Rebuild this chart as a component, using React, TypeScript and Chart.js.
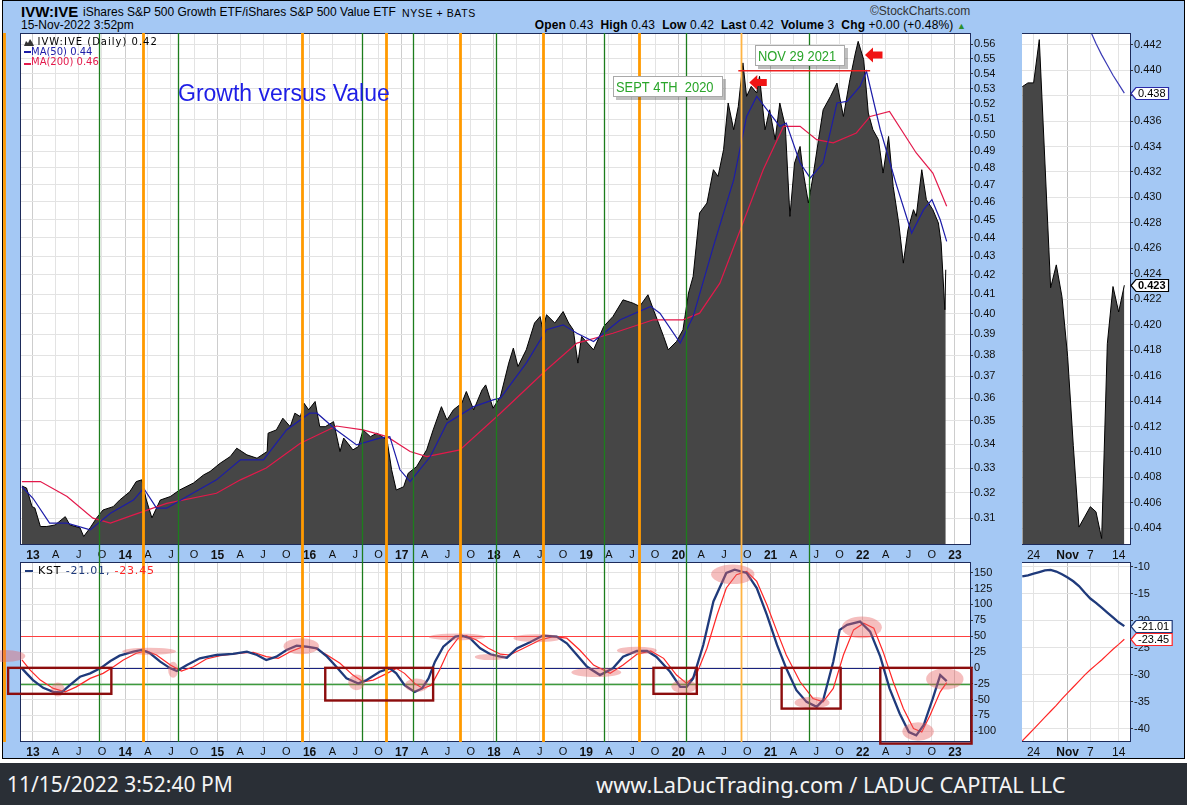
import React, { useEffect, useRef } from "react";
import { Chart, registerables } from "chart.js";

Chart.register(...registerables);

const SANS = "'Liberation Sans', Arial, Helvetica, sans-serif";
const DEJAVU = "'DejaVu Sans', Verdana, sans-serif";
const FOOT = "'Noto Sans', 'Open Sans', sans-serif";

// ---------------- main panel: IVW:IVE ratio (dates as decimal years) ----------------
const priceDates = [
  2012.88, 2012.93, 2012.99, 2013.02, 2013.08, 2013.15, 2013.24, 2013.35, 2013.40, 2013.51,
  2013.55, 2013.62, 2013.69, 2013.76, 2013.87, 2013.94, 2014.05, 2014.12, 2014.18, 2014.23,
  2014.29, 2014.38, 2014.49, 2014.59, 2014.74, 2014.85, 2014.92, 2015.03, 2015.14, 2015.21,
  2015.32, 2015.43, 2015.54, 2015.55, 2015.64, 2015.71, 2015.79, 2015.84, 2015.90, 2015.94,
  2015.99, 2016.06, 2016.11, 2016.17, 2016.26, 2016.33, 2016.37, 2016.47, 2016.53, 2016.58,
  2016.66, 2016.73, 2016.84, 2016.89, 2016.94, 2017.02, 2017.07, 2017.16, 2017.27, 2017.34,
  2017.43, 2017.49, 2017.56, 2017.65, 2017.70, 2017.78, 2017.87, 2017.91, 2017.99, 2018.07,
  2018.16, 2018.21, 2018.26, 2018.35, 2018.44, 2018.50, 2018.53, 2018.57, 2018.66, 2018.75,
  2018.81, 2018.86, 2018.91, 2018.95, 2019.08, 2019.19, 2019.29, 2019.40, 2019.51, 2019.58,
  2019.67, 2019.73, 2019.84, 2019.89, 2019.98, 2020.05, 2020.11, 2020.16, 2020.23, 2020.31,
  2020.38, 2020.43, 2020.49, 2020.54, 2020.60, 2020.65, 2020.70, 2020.74, 2020.79, 2020.85,
  2020.88, 2020.94, 2020.99, 2021.05, 2021.10, 2021.16, 2021.21, 2021.26, 2021.32, 2021.35,
  2021.41, 2021.46, 2021.52, 2021.57, 2021.65, 2021.72, 2021.79, 2021.86, 2021.92, 2021.95,
  2022.01, 2022.06, 2022.11, 2022.17, 2022.22, 2022.28, 2022.33, 2022.39, 2022.44, 2022.49,
  2022.55, 2022.58, 2022.64, 2022.69, 2022.76, 2022.82, 2022.85, 2022.89, 2022.90,
];
const priceValues = [
  0.3227, 0.3219, 0.3145, 0.3140, 0.3068, 0.3068, 0.3074, 0.3106, 0.3074, 0.3063,
  0.3030, 0.3063, 0.3101, 0.3132, 0.3145, 0.3171, 0.3204, 0.3245, 0.3252, 0.3171,
  0.3101, 0.3171, 0.3185, 0.3211, 0.3239, 0.3272, 0.3286, 0.3320, 0.3348, 0.3383,
  0.3355, 0.3341, 0.3369, 0.3447, 0.3461, 0.3512, 0.3475, 0.3534, 0.3519, 0.3578,
  0.3549, 0.3586, 0.3475, 0.3475, 0.3497, 0.3369, 0.3426, 0.3376, 0.3390, 0.3461,
  0.3432, 0.3447, 0.3418, 0.3293, 0.3211, 0.3224, 0.3279, 0.3306, 0.3376, 0.3461,
  0.3563, 0.3504, 0.3549, 0.3578, 0.3631, 0.3549, 0.3638, 0.3661, 0.3556, 0.3608,
  0.3762, 0.3833, 0.3746, 0.3825, 0.3955, 0.3987, 0.3922, 0.3996, 0.3955, 0.4012,
  0.3955, 0.3922, 0.3762, 0.3889, 0.3825, 0.3938, 0.3987, 0.4071, 0.4054, 0.4038,
  0.4097, 0.4021, 0.3889, 0.3825, 0.3865, 0.3922, 0.4106, 0.4192, 0.4537, 0.4594,
  0.4789, 0.4749, 0.4910, 0.5205, 0.5034, 0.5183, 0.5472, 0.5248, 0.5314, 0.5270,
  0.5381, 0.5034, 0.5161, 0.4972, 0.5205, 0.5055, 0.4518, 0.4829, 0.4930, 0.4789,
  0.4594, 0.4749, 0.4972, 0.5161, 0.5248, 0.5336, 0.5118, 0.5359, 0.5540, 0.5621,
  0.5494, 0.5140, 0.5034, 0.4972, 0.4769, 0.4992, 0.4690, 0.4481, 0.4262, 0.4443,
  0.4556, 0.4518, 0.4789, 0.4613, 0.4556, 0.4481, 0.4370, 0.4021, 0.4227,
];

const ma50Dates = [
  2012.88, 2013.00, 2013.18, 2013.37, 2013.62, 2013.84, 2014.09, 2014.20, 2014.34, 2014.45,
  2014.67, 2014.99, 2015.25, 2015.50, 2015.75, 2016.00, 2016.08, 2016.29, 2016.51, 2016.76,
  2016.87, 2016.98, 2017.09, 2017.31, 2017.49, 2017.78, 2017.99, 2018.07, 2018.35, 2018.57,
  2018.75, 2018.90, 2019.08, 2019.37, 2019.70, 2019.80, 2020.02, 2020.16, 2020.38, 2020.60,
  2020.74, 2020.85, 2020.99, 2021.10, 2021.17, 2021.32, 2021.43, 2021.57, 2021.72, 2021.83,
  2021.97, 2022.04, 2022.19, 2022.37, 2022.53, 2022.66, 2022.75, 2022.84, 2022.91,
];
const ma50Values = [
  0.3224, 0.3178, 0.3081, 0.3081, 0.3055, 0.3119, 0.3171, 0.3218, 0.3139, 0.3139,
  0.3185, 0.3252, 0.3334, 0.3334, 0.3461, 0.3534, 0.3534, 0.3461, 0.3397, 0.3426,
  0.3432, 0.3293, 0.3245, 0.3348, 0.3490, 0.3563, 0.3593, 0.3601, 0.3762, 0.3922,
  0.3946, 0.3905, 0.3865, 0.3971, 0.4038, 0.4004, 0.3857, 0.3987, 0.4352, 0.4729,
  0.5118, 0.5248, 0.5140, 0.5055, 0.5076, 0.4829, 0.4740, 0.4829, 0.5205, 0.5215,
  0.5314, 0.5415, 0.5034, 0.4690, 0.4425, 0.4556, 0.4613, 0.4499, 0.4379,
];

const ma200Dates = [
  2012.88, 2013.08, 2013.37, 2013.65, 2013.84, 2014.09, 2014.45, 2014.99, 2015.25, 2015.53,
  2015.90, 2016.29, 2016.58, 2016.84, 2017.09, 2017.27, 2017.63, 2018.07, 2018.57, 2018.90,
  2019.29, 2019.73, 2020.05, 2020.23, 2020.45, 2020.70, 2020.92, 2021.14, 2021.32, 2021.50,
  2021.68, 2021.93, 2022.08, 2022.29, 2022.58, 2022.76, 2022.91,
];
const ma200Values = [
  0.3245, 0.3245, 0.3185, 0.3100, 0.3081, 0.3113, 0.3158, 0.3198, 0.3252, 0.3300,
  0.3404, 0.3478, 0.3461, 0.3432, 0.3369, 0.3348, 0.3376, 0.3534, 0.3731, 0.3857,
  0.3905, 0.3971, 0.3971, 0.4004, 0.4157, 0.4481, 0.4789, 0.5055, 0.5055, 0.4972,
  0.4952, 0.5014, 0.5118, 0.5150, 0.4890, 0.4769, 0.4575,
];

const priceTicks = [
  0.31, 0.32, 0.33, 0.34, 0.35, 0.36, 0.37, 0.38, 0.39, 0.40, 0.41, 0.42, 0.43,
  0.44, 0.45, 0.46, 0.47, 0.48, 0.49, 0.50, 0.51, 0.52, 0.53, 0.54, 0.55, 0.56,
];

// ---------------- KST panel ----------------
const kstDates = [
  2012.88, 2012.93, 2013.00, 2013.11, 2013.22, 2013.31, 2013.40, 2013.51, 2013.62, 2013.73,
  2013.84, 2013.94, 2014.09, 2014.18, 2014.27, 2014.38, 2014.49, 2014.56, 2014.67, 2014.81,
  2014.99, 2015.17, 2015.32, 2015.43, 2015.53, 2015.64, 2015.75, 2015.86, 2015.97, 2016.08,
  2016.19, 2016.29, 2016.40, 2016.53, 2016.62, 2016.76, 2016.87, 2016.94, 2017.03, 2017.14,
  2017.22, 2017.29, 2017.36, 2017.45, 2017.58, 2017.65, 2017.74, 2017.85, 2017.96, 2018.07,
  2018.14, 2018.25, 2018.39, 2018.53, 2018.68, 2018.79, 2018.90, 2019.01, 2019.15, 2019.29,
  2019.40, 2019.55, 2019.66, 2019.76, 2019.91, 2020.02, 2020.09, 2020.16, 2020.27, 2020.38,
  2020.52, 2020.61, 2020.74, 2020.85, 2020.96, 2021.07, 2021.17, 2021.28, 2021.39, 2021.50,
  2021.57, 2021.68, 2021.75, 2021.83, 2021.97, 2022.08, 2022.19, 2022.29, 2022.40, 2022.50,
  2022.58, 2022.66, 2022.76, 2022.84, 2022.91,
];
const kstValues = [
  -0.8, -8.7, -19.3, -31.5, -37.9, -38.8, -27.3, -14.1, -8.7, -0.8,
  10.8, 19.2, 25.5, 28.2, 23, 9.7, -0.8, -5.1, 4.4, 15,
  20.3, 21.9, 25.5, 20.3, 12.4, 17.6, 28.2, 35, 33.4, 30.9,
  17.6, 1.7, -16.6, -24.6, -19.3, -6.2, -0.8, -8.7, -27.3, -37.9,
  -32.5, -16.6, 9.7, 33.4, 49.3, 50.9, 46.8, 30.9, 21.4, 17.6,
  16, 30.9, 40.4, 50.9, 49.3, 38.8, 20.3, 1.7, -11.4, -0.8,
  17.6, 26.6, 26.6, 17.6, -6.2, -30, -30, -16.6, 36.1, 104.8,
  149.8, 155, 149.8, 126, 83.7, 36.1, -0.8, -35.2, -53.7, -61.6,
  -51, 9.7, 59.9, 67.8, 73.1, 57.2, 17.6, -32.5, -72.1, -101.3,
  -106.5, -90.6, -48.3, -11.4, -21.01,
];
const kstSignalDates = [
  2012.88, 2012.97, 2013.08, 2013.22, 2013.35, 2013.47, 2013.62, 2013.76, 2013.85, 2013.98,
  2014.12, 2014.23, 2014.34, 2014.49, 2014.61, 2014.74, 2014.88, 2015.03, 2015.25, 2015.39,
  2015.53, 2015.66, 2015.79, 2015.93, 2016.06, 2016.19, 2016.33, 2016.47, 2016.58, 2016.69,
  2016.84, 2016.94, 2017.03, 2017.14, 2017.23, 2017.32, 2017.41, 2017.50, 2017.61, 2017.70,
  2017.81, 2017.94, 2018.07, 2018.17, 2018.32, 2018.50, 2018.64, 2018.79, 2018.93, 2019.08,
  2019.26, 2019.40, 2019.55, 2019.70, 2019.84, 2019.98, 2020.09, 2020.20, 2020.31, 2020.42,
  2020.52, 2020.63, 2020.74, 2020.85, 2020.96, 2021.07, 2021.17, 2021.32, 2021.46, 2021.57,
  2021.68, 2021.79, 2021.90, 2022.01, 2022.12, 2022.22, 2022.33, 2022.44, 2022.55, 2022.64,
  2022.73, 2022.84, 2022.91,
];
const kstSignalValues = [
  12.4, -3.5, -19.3, -32.5, -37.9, -30, -16.6, -8.7, -0.8, 12.4,
  23, 26.6, 20.3, 4.4, -5.1, 1.7, 13.9, 19.2, 23, 24.6,
  17.6, 15, 25.5, 33.4, 30.9, 20.3, 7.1, -11.4, -22, -19.3,
  -8.7, -0.8, -8.7, -24.6, -32.5, -27.3, -3.5, 25.5, 46.8, 50.9,
  44, 30.9, 21.5, 20.3, 30.9, 44, 49.3, 46.8, 28.2, 4.4,
  -8.7, 4.4, 21.4, 26.6, 15, -11.4, -24.6, -8.7, 30.9, 83.7,
  126, 147, 152.3, 136.4, 99.5, 57.2, 20.3, -22, -48.3, -53.7,
  -32.5, 20.3, 59.9, 70.5, 62.6, 25.5, -22, -64.2, -95.9, -101.3,
  -74.8, -37.9, -23.45,
];
const kstTicks = [150, 125, 100, 75, 50, 25, 0, -25, -50, -75, -100];
const kstLevels = [50, 0, -25];

// ---------------- right-hand zoom panels (last trading days) ----------------
const zoomDays = [
  "Oct 20", "Oct 21", "Oct 24", "Oct 25", "Oct 26", "Oct 27", "Oct 28", "Oct 31", "Nov 1", "Nov 2",
  "Nov 3", "Nov 4", "Nov 7", "Nov 8", "Nov 9", "Nov 10", "Nov 11", "Nov 14", "Nov 15",
];
const zoomPrice = [
  0.4387, 0.4390, 0.4390, 0.4424, 0.4327, 0.4229, 0.4247, 0.4222, 0.4175, 0.4105,
  0.4041, 0.4049, 0.4057, 0.4053, 0.4032, 0.4185, 0.4230, 0.4210, 0.4231,
];
const zoomMa50 = [
  null, null, null, null, null, null, null, null, null, null,
  0.4449, 0.4440, 0.4431, 0.4421, 0.4412, 0.4404, 0.4396, 0.4389, 0.4382,
];
const zoomKst = [
  -11.8, -11.6, -11.3, -11.0, -10.7, -10.6, -10.9, -11.4, -12.0, -12.7,
  -13.6, -14.8, -15.9, -16.7, -17.6, -18.5, -19.4, -20.3, -21.01,
];
const zoomKstSignal = [
  -42.3, -41.2, -40.1, -39.0, -37.9, -36.8, -35.7, -34.5, -33.4, -32.3,
  -31.2, -30.1, -29.1, -28.2, -27.3, -26.3, -25.3, -24.4, -23.45,
];
const zoomTickIdx = [2, 8, 12, 17];
const zoomTickLabels = ["24", "Nov", "7", "14"];
const zoomPriceTicks = [
  0.404, 0.406, 0.408, 0.41, 0.412, 0.414, 0.416, 0.418, 0.42, 0.422,
  0.424, 0.426, 0.428, 0.43, 0.432, 0.434, 0.436, 0.438, 0.44, 0.442,
];
const zoomKstTicks = [-10, -15, -20, -25, -30, -35, -40];

// ---------------- time axis labels ----------------
const yearTicks = [2013, 2014, 2015, 2016, 2017, 2018, 2019, 2020, 2021, 2022, 2023];
const quarterOffsets = [0, 0.247, 0.496, 0.748];
const quarterLabels = ["", "A", "J", "O"];

// ---------------- annotations (data coordinates) ----------------
const greenLineDates = [2013.716, 2014.573, 2016.568, 2017.121, 2018.018, 2019.19, 2020.079, 2021.413];
const orangeLineDates = [2012.685, 2014.193, 2015.918, 2016.829, 2017.631, 2018.535, 2019.573];
const lightOrangeLineDates = [2020.679];

const peakLineStart = 2020.65;
const peakLineEnd = 2022.08;
const peakLineValue = 0.5419;
const calloutTexts = ["SEPT 4TH  2020", "NOV 29 2021"];
const calloutDates = [2019.287, 2020.834];
const calloutValues = [0.5381, 0.5598];
const arrowDates = [2020.769, 2022.024];
const arrowValues = [0.5339, 0.5526];

const ellipseDates = [2012.70, 2013.27, 2014.26, 2014.52, 2015.91, 2016.51, 2017.16, 2017.60, 2017.96, 2018.47, 2019.11, 2019.55, 2020.06, 2020.59, 2021.45, 2021.99, 2022.60, 2022.89];
const ellipseValues = [18.7, -34.1, 26.1, -3.0, 34.1, -22.8, -27.3, 48.8, 17.1, 46.8, -7.1, 27.4, -29.3, 147.5, -55.0, 63.9, -100.5, -17.7];
const ellipseRx = [0.217, 0.073, 0.293, 0.054, 0.192, 0.090, 0.127, 0.307, 0.168, 0.260, 0.271, 0.217, 0.136, 0.235, 0.190, 0.217, 0.171, 0.203];
const ellipseRy = [9.5, 11.1, 5.5, 12.7, 12.7, 12.4, 10.6, 5.2, 4.8, 6.3, 7.4, 6.0, 10.6, 15.4, 9.2, 17.1, 14.6, 16.6];

const boxStartDates = [2012.73, 2016.17, 2019.73, 2021.12, 2022.19];
const boxEndDates = [2013.85, 2017.34, 2020.20, 2021.76, 2023.18];
const boxTopValues = [0, 0, 0, 0, 0];
const boxBottomValues = [-41, -51.5, -41, -64.3, -119.5];

// ---------------- scale ranges ----------------
const X_MIN = 2012.87;
const X_MAX = 2023.163;
const PRICE_MIN = 0.2998;
const PRICE_MAX = 0.568;
const KST_MIN = -117;
const KST_MAX = 167;
const ZOOM_MIN = 0.40269;
const ZOOM_MAX = 0.44292;
const ZKST_MIN = -42.5;
const ZKST_MAX = -9.13;

const quarterTickValues: number[] = [];
const quarterTickLabels: string[] = [];
yearTicks.forEach((yr) =>
  quarterOffsets.forEach((o, q) => {
    const v = yr + o;
    if (v <= X_MAX) {
      quarterTickValues.push(v);
      quarterTickLabels.push(q === 0 ? String(yr).slice(2) : quarterLabels[q]);
    }
  })
);

const pts = (xs: number[], ys: (number | null)[]) => xs.map((x, i) => ({ x, y: ys[i] }));
const indexOf = (arr: any[]) => arr.map((_, i) => i);

const COL = {
  frame: "#1d2b5a",
  grid: "#e3e3e3",
  gridMajor: "#cdcdcd",
  ma50: "#1c1ca8",
  ma200: "#e3194b",
  area: "#464646",
  kst: "#1f3a7b",
  kstSig: "#ff2626",
};

// ---------------- plugins ----------------
const framePlugin = {
  id: "frame",
  beforeDraw(chart: any) {
    const { ctx, chartArea: a } = chart;
    ctx.save();
    ctx.fillStyle = "#ffffff";
    ctx.fillRect(a.left, a.top, a.right - a.left, a.bottom - a.top);
    ctx.restore();
  },
  afterDraw(chart: any) {
    const { ctx, chartArea: a } = chart;
    ctx.save();
    ctx.strokeStyle = COL.frame;
    ctx.lineWidth = 1;
    ctx.strokeRect(Math.round(a.left) - 0.5, Math.round(a.top) + 0.5, Math.round(a.right - a.left) + 1, Math.round(a.bottom - a.top) - 1);
    ctx.restore();
  },
};

const vlinePlugin = (extend: boolean) => ({
  id: "vlines",
  afterDraw(chart: any) {
    const { ctx, chartArea: a, scales } = chart;
    const xs = scales.x;
    const y0 = a.top;
    const y1 = extend ? chart.height : a.bottom;
    const draw = (dates: number[], color: string, w: number) => {
      ctx.strokeStyle = color;
      ctx.lineWidth = w;
      dates.forEach((d) => {
        const px = Math.round(xs.getPixelForValue(d)) + 0.5;
        ctx.beginPath();
        ctx.moveTo(px, y0);
        ctx.lineTo(px, y1);
        ctx.stroke();
      });
    };
    ctx.save();
    draw(greenLineDates, "#1d7d1d", 1.3);
    draw(orangeLineDates, "#ff9a00", 2.8);
    draw(lightOrangeLineDates, "#ffb444", 1.8);
    ctx.restore();
  },
});

const mainAnnotationPlugin = {
  id: "mainAnno",
  afterDraw(chart: any) {
    const { ctx, scales } = chart;
    const x = scales.x;
    const y = scales.y;
    ctx.save();
    const py = y.getPixelForValue(peakLineValue);
    ctx.strokeStyle = "#ee2020";
    ctx.lineWidth = 1.5;
    ctx.beginPath();
    ctx.moveTo(x.getPixelForValue(peakLineStart), py);
    ctx.lineTo(x.getPixelForValue(peakLineEnd), py);
    ctx.stroke();

    ctx.font = `15px ${SANS}`;
    const sx = 0.86;
    calloutTexts.forEach((t, i) => {
      const bx = Math.round(x.getPixelForValue(calloutDates[i]));
      const by = Math.round(y.getPixelForValue(calloutValues[i]));
      const tw = ctx.measureText(t).width * sx;
      const bw = Math.round(tw + 12);
      const bh = 21;
      ctx.fillStyle = "rgba(0,0,0,0.25)";
      ctx.fillRect(bx + 3, by + 3, bw, bh);
      ctx.fillStyle = "#ffffff";
      ctx.fillRect(bx, by, bw, bh);
      ctx.strokeStyle = "#a9a9a9";
      ctx.lineWidth = 1;
      ctx.strokeRect(bx + 0.5, by + 0.5, bw - 1, bh - 1);
      ctx.save();
      ctx.translate(bx + 3, by + 16);
      ctx.scale(sx, 1);
      ctx.fillStyle = "#2aa52a";
      ctx.textBaseline = "alphabetic";
      ctx.fillText(t, 0, 0);
      ctx.restore();
    });

    arrowDates.forEach((d, i) => {
      const tx = x.getPixelForValue(d);
      const ty = y.getPixelForValue(arrowValues[i]);
      ctx.fillStyle = "#f01414";
      ctx.beginPath();
      ctx.moveTo(tx, ty);
      ctx.lineTo(tx + 8, ty - 7.5);
      ctx.lineTo(tx + 8, ty - 3.5);
      ctx.lineTo(tx + 17.5, ty - 3.5);
      ctx.lineTo(tx + 17.5, ty + 3.5);
      ctx.lineTo(tx + 8, ty + 3.5);
      ctx.lineTo(tx + 8, ty + 7.5);
      ctx.closePath();
      ctx.fill();
    });
    ctx.restore();
  },
};

const kstLevelPlugin = {
  id: "kstLevels",
  beforeDatasetsDraw(chart: any) {
    const { ctx, chartArea: a, scales } = chart;
    const colors = ["#ff4040", "#1a237e", "#3d9b3d"];
    const widths = [1.2, 1.2, 1.6];
    ctx.save();
    kstLevels.forEach((v, i) => {
      const py = Math.round(scales.y.getPixelForValue(v)) + 0.5;
      ctx.strokeStyle = colors[i];
      ctx.lineWidth = widths[i];
      ctx.beginPath();
      ctx.moveTo(a.left, py);
      ctx.lineTo(a.right, py);
      ctx.stroke();
    });
    ctx.restore();
  },
};

const kstMarksPlugin = {
  id: "kstMarks",
  afterDraw(chart: any) {
    const { ctx, scales } = chart;
    const x = scales.x;
    const y = scales.y;
    ctx.save();
    ctx.fillStyle = "rgba(232,100,100,0.42)";
    ellipseDates.forEach((d, i) => {
      const cx = x.getPixelForValue(d);
      const cy = y.getPixelForValue(ellipseValues[i]);
      const rx = x.getPixelForValue(d + ellipseRx[i]) - cx;
      const ry = cy - y.getPixelForValue(ellipseValues[i] + ellipseRy[i]);
      ctx.beginPath();
      ctx.ellipse(cx, cy, Math.abs(rx), Math.abs(ry), 0, 0, Math.PI * 2);
      ctx.fill();
    });
    ctx.strokeStyle = "#8c0d0d";
    ctx.lineWidth = 2.4;
    boxStartDates.forEach((d, i) => {
      const x0 = x.getPixelForValue(d);
      const x1 = x.getPixelForValue(boxEndDates[i]);
      const y0 = y.getPixelForValue(boxTopValues[i]);
      const y1 = y.getPixelForValue(boxBottomValues[i]);
      ctx.strokeRect(x0, y0, x1 - x0, y1 - y0);
    });
    ctx.restore();
  },
};

type Tag = { value: number; text: string; border: string; bold?: boolean };
const tagPlugin = (tags: Tag[]) => ({
  id: "tags",
  afterDraw(chart: any) {
    const { ctx, chartArea: a, scales } = chart;
    tags.forEach((t) => {
      const py = Math.round(scales.y.getPixelForValue(t.value)) + 0.5;
      ctx.save();
      ctx.font = `${t.bold ? "bold " : ""}11px ${SANS}`;
      const w = ctx.measureText(t.text).width + 5;
      const h = 12;
      const x0 = a.right + 1;
      ctx.beginPath();
      ctx.moveTo(x0, py);
      ctx.lineTo(x0 + 5, py - h / 2);
      ctx.lineTo(x0 + 5 + w, py - h / 2);
      ctx.lineTo(x0 + 5 + w, py + h / 2);
      ctx.lineTo(x0 + 5, py + h / 2);
      ctx.closePath();
      ctx.fillStyle = "#ffffff";
      ctx.fill();
      ctx.strokeStyle = t.border;
      ctx.lineWidth = 1.2;
      ctx.stroke();
      ctx.fillStyle = "#000";
      ctx.textBaseline = "middle";
      ctx.fillText(t.text, x0 + 7, py + 0.5);
      ctx.restore();
    });
  },
});

// ---------------- scale builders ----------------
const timeScale = (h: number) => ({
  type: "linear",
  min: X_MIN,
  max: X_MAX,
  afterBuildTicks: (s: any) => {
    s.ticks = quarterTickValues.map((v) => ({ value: v }));
  },
  afterFit: (s: any) => {
    s.height = h;
    s.paddingLeft = 0;
    s.paddingRight = 0;
  },
  grid: {
    color: (c: any) => (c.tick && Number.isInteger(c.tick.value) ? COL.gridMajor : COL.grid),
    drawTicks: false,
  },
  border: { display: false },
  ticks: {
    autoSkip: false,
    maxRotation: 0,
    padding: 3,
    color: "#111",
    font: (c: any) =>
      c.tick && Number.isInteger(c.tick.value)
        ? { family: SANS, size: 12, weight: "bold" }
        : { family: SANS, size: 11 },
    callback: (_v: any, i: number) => quarterTickLabels[i],
  },
});

const zoomXScale = (h: number) => ({
  type: "linear",
  min: -0.05,
  max: 19.0,
  afterBuildTicks: (s: any) => {
    s.ticks = zoomTickIdx.map((v) => ({ value: v }));
  },
  afterFit: (s: any) => {
    s.height = h;
    s.paddingLeft = 0;
    s.paddingRight = 0;
  },
  grid: { color: (c: any) => (c.index === 1 ? "#bdbdbd" : COL.grid), drawTicks: false },
  border: { display: false },
  ticks: {
    autoSkip: false,
    maxRotation: 0,
    padding: 3,
    color: "#111",
    font: (c: any) => (c.index === 1 ? { family: SANS, size: 12, weight: "bold" } : { family: SANS, size: 12 }),
    callback: (_v: any, i: number) => zoomTickLabels[i],
  },
});

const valueScale = (type: string, min: number, max: number, ticks: number[], width: number, fmt: (v: number) => string) => ({
  type,
  position: "right",
  min,
  max,
  afterBuildTicks: (s: any) => {
    s.ticks = ticks.map((v) => ({ value: v }));
  },
  afterFit: (s: any) => {
    s.width = width;
    s.paddingTop = 0;
    s.paddingBottom = 0;
  },
  grid: { color: COL.grid, tickLength: 3, tickColor: "#333" },
  border: { display: false },
  ticks: {
    autoSkip: false,
    padding: 1,
    color: "#111",
    font: { family: SANS, size: 11 },
    callback: (v: any) => fmt(Number(v)),
  },
});

const baseOptions = (padLeft: number) => ({
  animation: false,
  responsive: false,
  events: [],
  layout: { padding: { left: padLeft, right: 0, top: 0, bottom: 0 }, autoPadding: false },
  plugins: { legend: { display: false }, tooltip: { enabled: false } },
  elements: { point: { radius: 0 }, line: { tension: 0 } },
});

// ---------------- text helper ----------------
type TxtProps = {
  x?: number;
  right?: number;
  y: number;
  size: number;
  color?: string;
  weight?: number;
  family?: string;
  ls?: number;
  children: React.ReactNode;
};
function Txt({ x, right, y, size, color = "#000", weight = 400, family = SANS, ls = 0, children }: TxtProps) {
  const asc = family === FOOT ? 0.888 : 0.846;
  const style: React.CSSProperties = {
    position: "absolute",
    top: y - asc * size,
    fontSize: size,
    lineHeight: `${size}px`,
    color,
    fontWeight: weight,
    fontFamily: family,
    letterSpacing: ls,
    whiteSpace: "pre",
  };
  if (right !== undefined) style.right = 1187 - right;
  else style.left = x;
  return <div style={style}>{children}</div>;
}

export default function App() {
  const mainRef = useRef<HTMLCanvasElement>(null);
  const zoomRef = useRef<HTMLCanvasElement>(null);
  const kstRef = useRef<HTMLCanvasElement>(null);
  const kstZoomRef = useRef<HTMLCanvasElement>(null);

  useEffect(() => {
    const charts: Chart[] = [];

    charts.push(
      new Chart(mainRef.current as HTMLCanvasElement, {
        type: "line",
        data: {
          datasets: [
            { data: pts(ma50Dates, ma50Values), borderColor: COL.ma50, borderWidth: 1.2, pointRadius: 0, fill: false },
            { data: pts(ma200Dates, ma200Values), borderColor: COL.ma200, borderWidth: 1.2, pointRadius: 0, fill: false },
            { data: pts(priceDates, priceValues), borderColor: "#000", borderWidth: 1, backgroundColor: COL.area, fill: "start", pointRadius: 0 },
          ],
        },
        options: {
          ...baseOptions(21),
          scales: {
            x: timeScale(17),
            y: valueScale("logarithmic", PRICE_MIN, PRICE_MAX, priceTicks, 40, (v) => v.toFixed(2)),
          },
        } as any,
        plugins: [framePlugin, vlinePlugin(true), mainAnnotationPlugin] as any,
      })
    );

    charts.push(
      new Chart(zoomRef.current as HTMLCanvasElement, {
        type: "line",
        data: {
          datasets: [
            { data: pts(indexOf(zoomDays), zoomMa50), borderColor: "#3b3bb5", borderWidth: 1.2, pointRadius: 0, fill: false },
            { data: pts(indexOf(zoomDays), zoomPrice), borderColor: "#000", borderWidth: 1, backgroundColor: COL.area, fill: "start", pointRadius: 0 },
          ],
        },
        options: {
          ...baseOptions(0),
          scales: {
            x: zoomXScale(17),
            y: valueScale("linear", ZOOM_MIN, ZOOM_MAX, zoomPriceTicks, 56, (v) => v.toFixed(3)),
          },
        } as any,
        plugins: [
          framePlugin,
          tagPlugin([
            { value: zoomMa50[zoomMa50.length - 1] as number, text: (zoomMa50[zoomMa50.length - 1] as number).toFixed(3), border: "#2a2aa8" },
            { value: zoomPrice[zoomPrice.length - 1], text: zoomPrice[zoomPrice.length - 1].toFixed(3), border: "#000", bold: true },
          ]),
        ] as any,
      })
    );

    charts.push(
      new Chart(kstRef.current as HTMLCanvasElement, {
        type: "line",
        data: {
          datasets: [
            { data: pts(kstDates, kstValues), borderColor: COL.kst, borderWidth: 2.3, pointRadius: 0, fill: false },
            { data: pts(kstSignalDates, kstSignalValues), borderColor: COL.kstSig, borderWidth: 1.2, pointRadius: 0, fill: false },
          ],
        },
        options: {
          ...baseOptions(21),
          scales: {
            x: timeScale(16),
            y: valueScale("linear", KST_MIN, KST_MAX, kstTicks, 40, (v) => String(v)),
          },
        } as any,
        plugins: [framePlugin, kstLevelPlugin, vlinePlugin(false), kstMarksPlugin] as any,
      })
    );

    charts.push(
      new Chart(kstZoomRef.current as HTMLCanvasElement, {
        type: "line",
        data: {
          datasets: [
            { data: pts(indexOf(zoomDays), zoomKst), borderColor: COL.kst, borderWidth: 2.3, pointRadius: 0, fill: false },
            { data: pts(indexOf(zoomDays), zoomKstSignal), borderColor: COL.kstSig, borderWidth: 1.2, pointRadius: 0, fill: false },
          ],
        },
        options: {
          ...baseOptions(0),
          scales: {
            x: zoomXScale(16),
            y: valueScale("linear", ZKST_MIN, ZKST_MAX, zoomKstTicks, 56, (v) => String(v)),
          },
        } as any,
        plugins: [
          framePlugin,
          tagPlugin([
            { value: zoomKst[zoomKst.length - 1], text: zoomKst[zoomKst.length - 1].toFixed(2), border: COL.kst },
            { value: zoomKstSignal[zoomKstSignal.length - 1], text: zoomKstSignal[zoomKstSignal.length - 1].toFixed(2), border: COL.kstSig },
          ]),
        ] as any,
      })
    );

    return () => charts.forEach((c) => c.destroy());
  }, []);

  const abs = (l: number, t: number): React.CSSProperties => ({ position: "absolute", left: l, top: t });
  const lastPrice = priceValues[priceValues.length - 1];
  const lastMa50 = ma50Values[ma50Values.length - 1];
  const lastMa200 = ma200Values[ma200Values.length - 1];

  return (
    <div style={{ position: "fixed", left: 0, top: 0, width: 1187, height: 805, background: "#fff", overflow: "hidden", fontFamily: SANS }}>
      <div style={{ ...abs(2, 0), width: 1183, height: 759, background: "#a4c8f4", border: "1px solid #000", boxSizing: "border-box" }} />

      <canvas ref={mainRef} width={1010} height={529} style={abs(0, 33)} />
      <canvas ref={zoomRef} width={164} height={529} style={abs(1022, 33)} />
      <canvas ref={kstRef} width={1010} height={196} style={abs(0, 562)} />
      <canvas ref={kstZoomRef} width={164} height={196} style={abs(1022, 562)} />

      {/* header */}
      <Txt x={21} y={16.5} size={15} weight={700}>IVW:IVE</Txt>
      <Txt x={83} y={16.5} size={12}>iShares S&amp;P 500 Growth ETF/iShares S&amp;P 500 Value ETF</Txt>
      <Txt x={402} y={16.5} size={10.5} ls={0.6}>NYSE + BATS</Txt>
      <Txt x={870} y={15.5} size={12} color="#333">©StockCharts.com</Txt>
      <Txt x={21} y={29} size={12}>15-Nov-2022 3:52pm</Txt>
      <Txt right={966} y={29} size={12} ls={0.15}>
        <b>Open</b> 0.43  <b>High</b> 0.43  <b>Low</b> 0.42  <b>Last</b> 0.42  <b>Volume</b> 3  <b>Chg</b> +0.00 (+0.48%){" "}
        <span style={{ color: "#2b8f2b", fontSize: 9 }}>▲</span>
      </Txt>

      {/* main legend */}
      <svg style={abs(24, 39)} width={10} height={7}>
        <polygon points="0,7 2,2 4,4 6,0 8,3 10,7" fill="#333" />
      </svg>
      <Txt x={37.5} y={45.3} size={10} family={DEJAVU} ls={1}>
        IVW:IVE (Daily) {lastPrice.toFixed(2)}
      </Txt>
      <div style={{ ...abs(24, 51), width: 7, height: 2, background: COL.ma50 }} />
      <Txt x={31} y={55.3} size={10} family={DEJAVU} color={COL.ma50}>
        MA(50) {lastMa50.toFixed(2)}
      </Txt>
      <div style={{ ...abs(24, 63), width: 7, height: 2, background: COL.ma200 }} />
      <Txt x={31} y={65.3} size={10} family={DEJAVU} color={COL.ma200}>
        MA(200) {lastMa200.toFixed(2)}
      </Txt>

      <Txt x={178} y={101} size={23} color="#1e1ee6">Growth versus Value</Txt>

      {/* KST legend */}
      <div style={{ ...abs(25, 570), width: 8, height: 2, background: COL.kst }} />
      <Txt x={38} y={574.5} size={11} family={DEJAVU} ls={0.8}>
        KST <span style={{ color: COL.kst }}>{kstValues[kstValues.length - 1].toFixed(2)},</span>{" "}
        <span style={{ color: COL.kstSig }}>{kstSignalValues[kstSignalValues.length - 1].toFixed(2)}</span>
      </Txt>

      {/* footer */}
      <div style={{ ...abs(0, 763), width: 1187, height: 42, background: "#2a2f36" }} />
      <Txt x={7} y={793} size={21} family={FOOT} color="#f4f4f4">11/15/2022 3:52:40 PM</Txt>
      <Txt x={596} y={793} size={21.8} family={FOOT} color="#f4f4f4">www.LaDucTrading.com / LADUC CAPITAL LLC</Txt>
    </div>
  );
}
